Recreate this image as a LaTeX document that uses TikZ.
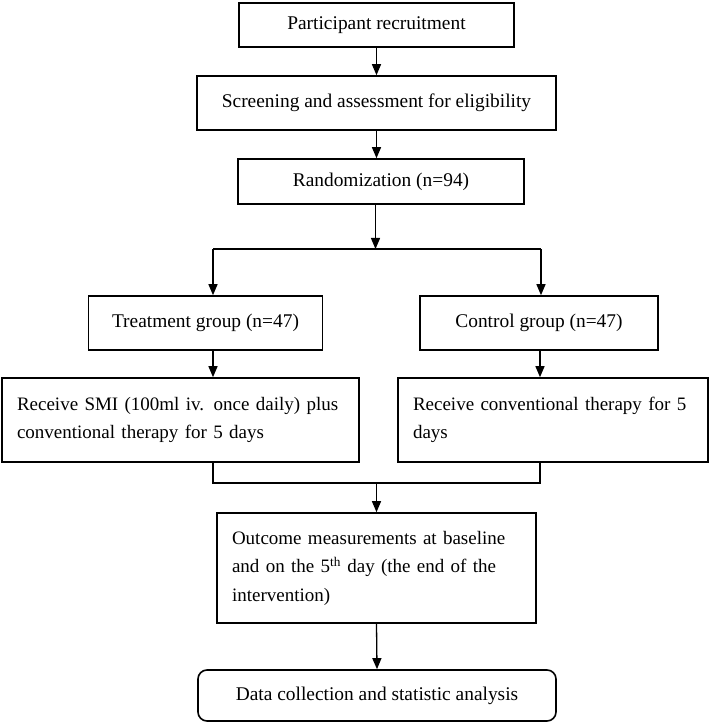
\documentclass[tikz,border=0pt]{standalone}
\usepackage{fontspec}
\setmainfont{Liberation Serif}
\usetikzlibrary{arrows.meta,positioning,calc}
\begin{document}
\begin{tikzpicture}[x=1pt,y=1pt,
  box/.style={draw=black,line width=1.6pt,fill=white,inner sep=0pt,
    font=\fontsize{19.4}{28.5}\selectfont,align=center},
  lbox/.style={draw=black,line width=1.6pt,fill=white,inner xsep=15pt,inner ysep=0pt,
    font=\fontsize{19}{28.5}\selectfont,align=left},
  conn/.style={line width=1.3pt,draw=black},
  arr/.style={conn,-{Triangle[length=11pt,width=9pt]}}
]
\useasboundingbox[fill=white] (0,0) rectangle (709,724);

\node[box,minimum width=275pt,minimum height=44pt] (n1) at (376.5,699) {Participant recruitment};
\node[box,minimum width=359pt,minimum height=54pt] (n2) at (376.5,621) {Screening and assessment for eligibility};
\node[box,minimum width=286pt,minimum height=45pt] (n3) at (381,542.5) {Randomization (n=94)};

\node[box,minimum width=234pt,minimum height=54pt] (tr) at (205.5,401) {Treatment group (n=47)};
\node[box,minimum width=238pt,minimum height=54pt] (ct) at (539,401) {Control group (n=47)};

\node[lbox,text width=327pt,minimum height=84pt] (smi) at (180.5,304)
  {Receive SMI (100ml iv. once daily) plus\\conventional therapy for 5 days};
\node[lbox,text width=280pt,minimum height=84pt] (cv) at (553,304)
  {Receive conventional therapy for 5\\days};

\node[lbox,text width=289pt,minimum height=110pt] (oc) at (376.5,156)
  {Outcome measurements at baseline\\and on the 5\textsuperscript{th} day (the end of the\\intervention)};
\node[box,rounded corners=9pt,minimum width=358pt,minimum height=51pt] (dc) at (377,28.5)
  {Data collection and statistic analysis};

\coordinate (sL) at (213,475);
\coordinate (sR) at (541,475);
\coordinate (sC) at (375.5,475);
\coordinate (mL) at (213,241);
\coordinate (mR) at (540,241);
\coordinate (mC) at (376.5,241);

\draw[arr] (n1.south) -- (n2.north);
\draw[arr] (n2.south) -- (n2.south |- n3.north);
\draw[arr] (sC |- n3.south) -- (sC);
\draw[conn] (sL) -- (sR);
\draw[arr] (sL) -- (sL |- tr.north);
\draw[arr] (sR) -- (sR |- ct.north);
\draw[arr] (sL |- tr.south) -- (sL |- smi.north);
\draw[arr] (mR |- ct.south) -- (mR |- cv.north);
\draw[conn] (sL |- smi.south) -- (mL) -- (mR) -- (mR |- cv.south);
\draw[arr] (mC) -- (oc.north);
\draw[arr] (oc.south) -- (dc.north);
\end{tikzpicture}
\end{document}
